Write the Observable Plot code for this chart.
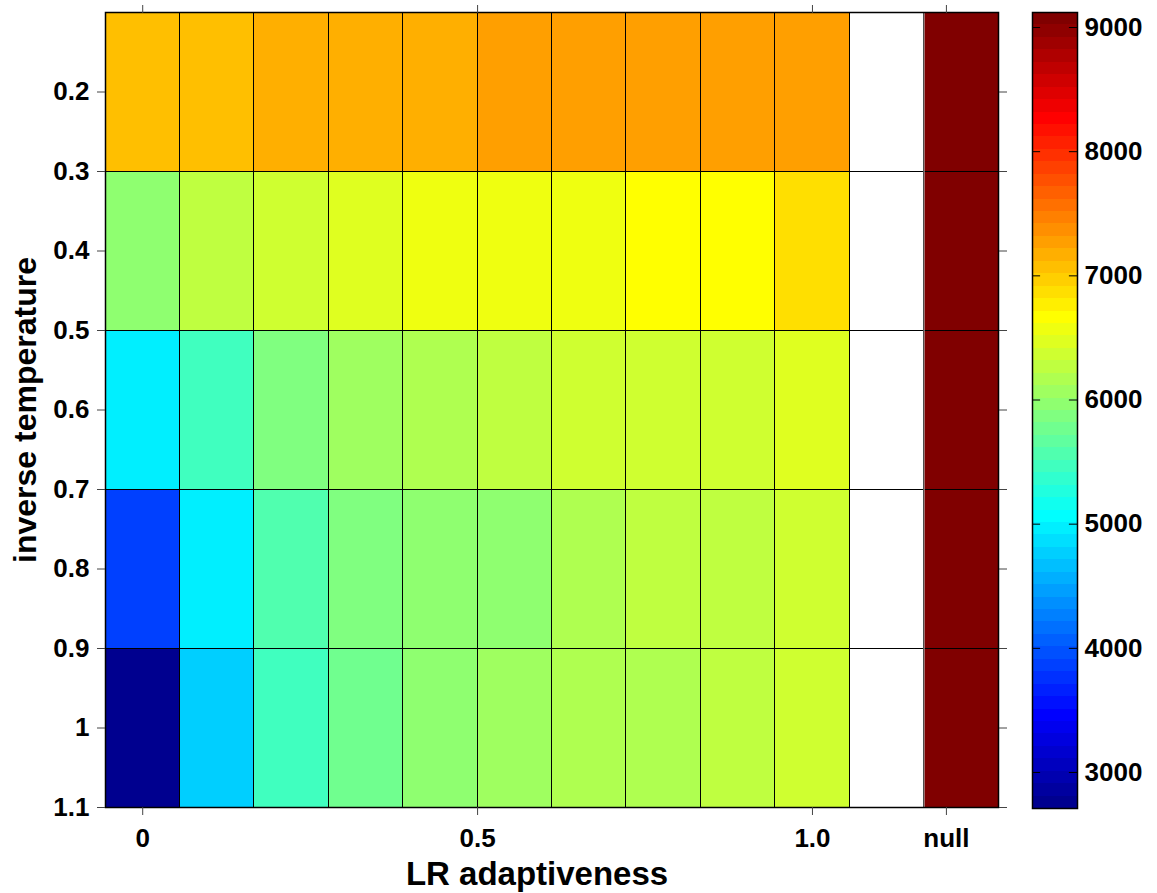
<!DOCTYPE html>
<html>
<head>
<meta charset="utf-8">
<script src="https://cdn.jsdelivr.net/npm/d3@7"></script>
<script src="https://cdn.jsdelivr.net/npm/@observablehq/plot@0.6"></script>
<style>
  html, body { margin: 0; padding: 0; background: #fff; }
  #wrap { display: flex; width: 1157px; height: 893px; }
  #wrap svg { display: block; }
</style>
</head>
<body>
<div id="wrap"></div>
<script>
// ---- data ----
const lrColumns = ["0", "0.11", "0.22", "0.33", "0.44", "0.56", "0.67", "0.78", "0.89", "1.0"];
const tempLow  = [0.1, 0.3, 0.5, 0.7, 0.9];
const tempHigh = [0.3, 0.5, 0.7, 0.9, 1.1];
const row_01_03 = [7050, 7080, 7150, 7180, 7200, 7280, 7260, 7250, 7270, 7240];
const row_03_05 = [5960, 6270, 6370, 6470, 6560, 6570, 6580, 6660, 6680, 6860];
const row_05_07 = [4960, 5460, 5860, 6060, 6170, 6260, 6350, 6360, 6370, 6460];
const row_07_09 = [3860, 4960, 5560, 5860, 5950, 5970, 6150, 6250, 6270, 6360];
const row_09_11 = [2710, 4760, 5460, 5760, 5960, 6060, 6150, 6170, 6260, 6360];
const nullValues = [9121, 9121, 9121, 9121, 9121];
const gapIndex = 10;     // empty column between LR=1.0 and null
const nullIndex = 11;
const xTickPositions = [0, 4.5, 9, 10.8];
const xTickLabels = ["0", "0.5", "1.0", "null"];
const yTicks = [0.2, 0.3, 0.4, 0.5, 0.6, 0.7, 0.8, 0.9, 1.0, 1.1];
const yTickLabels = ["0.2", "0.3", "0.4", "0.5", "0.6", "0.7", "0.8", "0.9", "1", "1.1"];
const colorbarTicks = [3000, 4000, 5000, 6000, 7000, 8000, 9000];
const xTitle = "LR adaptiveness";
const yTitle = "inverse temperature";

// ---- build table ----
const rows = [row_01_03, row_03_05, row_05_07, row_07_09, row_09_11];
const cells = [];
rows.forEach((vals, r) => {
  vals.forEach((v, c) => cells.push({col: c, y1: tempLow[r], y2: tempHigh[r], v}));
  cells.push({col: nullIndex, y1: tempLow[r], y2: tempHigh[r], v: nullValues[r]});
});
const extent = d3.extent(cells, d => d.v);

// MATLAB jet(64) colormap
function matlabJet(m) {
  const n = Math.ceil(m / 4);
  const u = [];
  for (let i = 1; i <= n; i++) u.push(i / n);
  for (let i = 0; i < n - 1; i++) u.push(1);
  for (let i = n; i >= 1; i--) u.push(i / n);
  const off = Math.ceil(n / 2) - (m % 4 === 1 ? 1 : 0);
  const L = u.length;
  const g = d3.range(1, L + 1).map(i => off + i);
  const rr = g.map(v => v + n).filter(v => v <= m);
  const bb = g.map(v => v - n).filter(v => v >= 1);
  const gg = g.filter(v => v <= m);
  const J = d3.range(m).map(() => [0, 0, 0]);
  rr.forEach((row, i) => J[row - 1][0] = u[i]);
  gg.forEach((row, i) => J[row - 1][1] = u[i]);
  bb.forEach((row, i) => J[row - 1][2] = u[L - bb.length + i]);
  return J.map(([R, G, B]) => d3.rgb(R * 255, G * 255, B * 255).formatHex());
}
const JET = matlabJet(64);
const jetInterp = (t) => JET[Math.max(0, Math.min(63, Math.floor(t * 64)))];
const colorScale = {type: "linear", domain: extent, interpolate: jetInterp};

const font = "'Liberation Sans', Arial, Helvetica, sans-serif";
const xLabelMap = new Map(xTickPositions.map((p, i) => [p, xTickLabels[i]]));
const yLabelMap = new Map(yTicks.map((p, i) => [p, yTickLabels[i]]));
const rowEdges = tempLow.concat([tempHigh[tempHigh.length - 1]]);

const main = Plot.plot({
  width: 1020, height: 893,
  marginLeft: 105, marginRight: 22, marginTop: 12, marginBottom: 86,
  style: {fontFamily: font, fontWeight: "bold", color: "black", background: "white"},
  x: {domain: [-0.5, 11.5]},
  y: {domain: [0.1, 1.1], reverse: true},
  color: colorScale,
  marks: [
    Plot.rect(cells, {x1: d => d.col - 0.5, x2: d => d.col + 0.5, y1: "y1", y2: "y2", fill: "v", stroke: "black", strokeWidth: 1, shapeRendering: "crispEdges"}),
    Plot.ruleY(rowEdges, {x1: gapIndex - 0.5, x2: gapIndex + 0.5, stroke: "black", strokeWidth: 1}),
    Plot.ruleX([gapIndex + 0.5], {stroke: "#bbb", strokeWidth: 1}),
    Plot.frame({stroke: "black", strokeWidth: 1.5}),
    Plot.axisX({anchor: "bottom", ticks: xTickPositions, tickFormat: d => xLabelMap.get(d), tickSize: 8, tickPadding: 13, fontSize: 26, stroke: "#444", label: null}),
    Plot.axisX({anchor: "top", ticks: xTickPositions, tickFormat: () => "", tickSize: 8, stroke: "#444", label: null}),
    Plot.text([xTitle], {text: d => d, frameAnchor: "bottom", dx: -15, dy: 77, fontSize: 33, fill: "black"}),
    Plot.axisY({anchor: "left", ticks: yTicks, tickFormat: d => yLabelMap.get(d), tickSize: 8, tickPadding: 8, fontSize: 26, stroke: "#444", label: null}),
    Plot.axisY({anchor: "right", ticks: yTicks, tickFormat: () => "", tickSize: 8, stroke: "#444", label: null}),
    Plot.axisY({anchor: "left", ticks: [], tickSize: 0, label: yTitle, labelAnchor: "center", labelArrow: "none", labelOffset: 92, fontSize: 32})
  ]
});

// colorbar
const levels = d3.range(64).map(i => {
  const a = extent[0] + (extent[1] - extent[0]) * i / 64;
  const b = extent[0] + (extent[1] - extent[0]) * (i + 1) / 64;
  return {y1: a, y2: b, v: (a + b) / 2};
});
const cbar = Plot.plot({
  width: 137, height: 893,
  marginLeft: 12, marginRight: 80, marginTop: 12, marginBottom: 85,
  style: {fontFamily: font, fontWeight: "bold", color: "black", background: "white"},
  x: {domain: [0, 1], axis: null},
  y: {domain: extent, axis: null},
  color: colorScale,
  marks: [
    Plot.rect(levels, {x1: 0, x2: 1, y1: "y1", y2: "y2", fill: "v", shapeRendering: "crispEdges"}),
    Plot.ruleY(colorbarTicks, {x1: 0, x2: 0.18, stroke: "black"}),
    Plot.ruleY(colorbarTicks, {x1: 0.82, x2: 1, stroke: "black"}),
    Plot.frame({stroke: "black", strokeWidth: 1.5}),
    Plot.axisY({anchor: "right", ticks: colorbarTicks, tickFormat: d => String(d), tickSize: 0, tickPadding: 7, fontSize: 26, label: null})
  ]
});

document.getElementById("wrap").append(main, cbar);
</script>
</body>
</html>
